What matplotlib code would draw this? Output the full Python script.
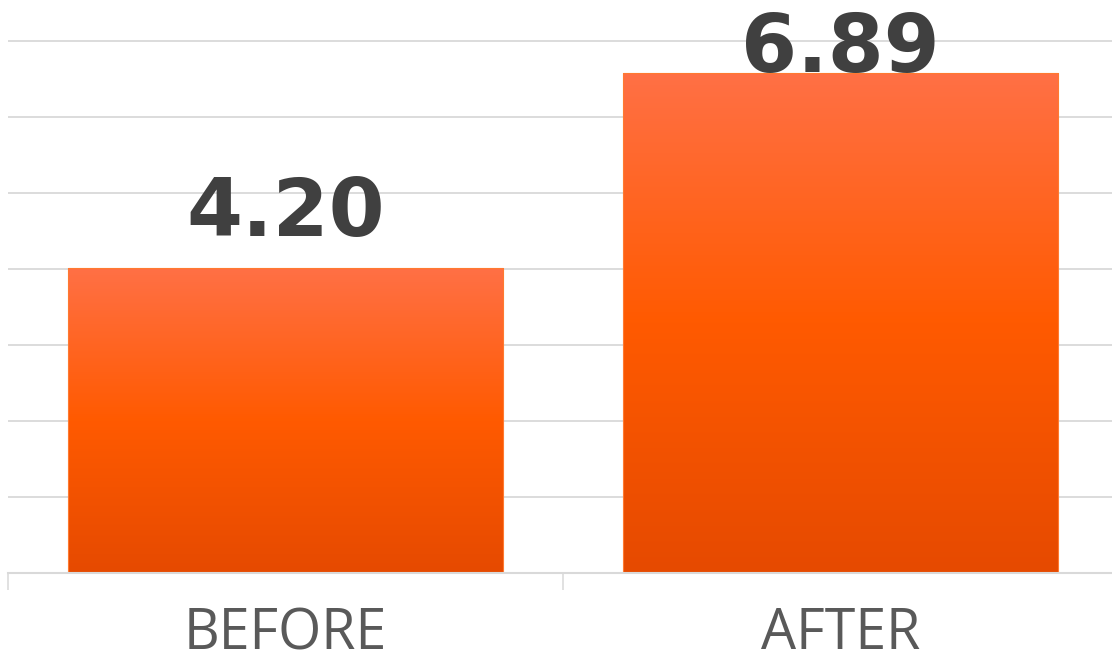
import matplotlib
matplotlib.use("Agg")
import matplotlib.pyplot as plt
import numpy as np
from matplotlib.colors import LinearSegmentedColormap

categorias = ["BEFORE", "AFTER"]
valores = [4.20, 6.89]
etiquetas = ["4.20", "6.89"]

gris_linea = "#d9d9d9"
gris_texto = "#404040"
degradado = LinearSegmentedColormap.from_list(
    "naranja", [(0.0, "#e64a00"), (0.5, "#ff5a00"), (1.0, "#ff7045")])

fig = plt.figure(figsize=(11.12, 6.52), dpi=100)
ax = fig.add_axes([8 / 1112, 79.3 / 652, 1110 / 1112, 572.7 / 652])

ymax = 7.9
paso = 1.048  # separacion de las lineas de la cuadricula

x = np.arange(len(categorias))
barras = ax.bar(x, valores, width=0.784, color="none",
                edgecolor="#ff7a30", linewidth=0.8, zorder=3)

# relleno en degradado para cada barra
grad = np.linspace(0, 1, 256).reshape(-1, 1)
for b in barras:
    x0, y0 = b.get_x(), b.get_y()
    im = ax.imshow(grad, cmap=degradado, aspect="auto", origin="lower",
                   extent=[x0, x0 + b.get_width(), y0, y0 + b.get_height()],
                   zorder=2)
    im.set_clip_path(b)

ax.set_xlim(-0.5, 1.5)
ax.set_ylim(0, ymax)

# cuadricula
ax.set_yticks(np.arange(1, 8) * paso)
ax.yaxis.grid(True, color=gris_linea, linewidth=1.3, zorder=0)
ax.tick_params(axis="y", left=False, labelleft=False)
for s in ["top", "right", "left"]:
    ax.spines[s].set_visible(False)
ax.spines["bottom"].set_color(gris_linea)
ax.spines["bottom"].set_linewidth(1.5)
ax.spines["bottom"].set_zorder(4)

# separadores de categoria
ax.set_xticks(x)
ax.set_xticklabels([])
ax.tick_params(axis="x", which="major", length=0)
ax.set_xticks([-0.5, 0.5, 1.5], minor=True)
ax.tick_params(axis="x", which="minor", length=12, width=1.1,
               color=gris_linea, direction="out")

# nombres de categoria
for i, c in enumerate(categorias):
    ax.annotate(c, xy=(i, 0), xycoords=("data", "axes fraction"),
                xytext=(0, -55), textcoords="offset points",
                ha="center", va="baseline", fontsize=40,
                family=["Open Sans", "DejaVu Sans"], fontweight="normal",
                color="#595959", annotation_clip=False)

# etiquetas de valor (se mantienen dentro del area del grafico)
alto_txt = 62 / 72.5
for i, v in enumerate(valores):
    y = min(v + 32 / 72.5, ymax - 10 / 72.5 - alto_txt)
    ax.text(i, y, etiquetas[i], ha="center", va="baseline",
            fontsize=58, fontweight="bold", family="DejaVu Sans",
            color=gris_texto, zorder=5)

plt.savefig("out.png", dpi=100)
